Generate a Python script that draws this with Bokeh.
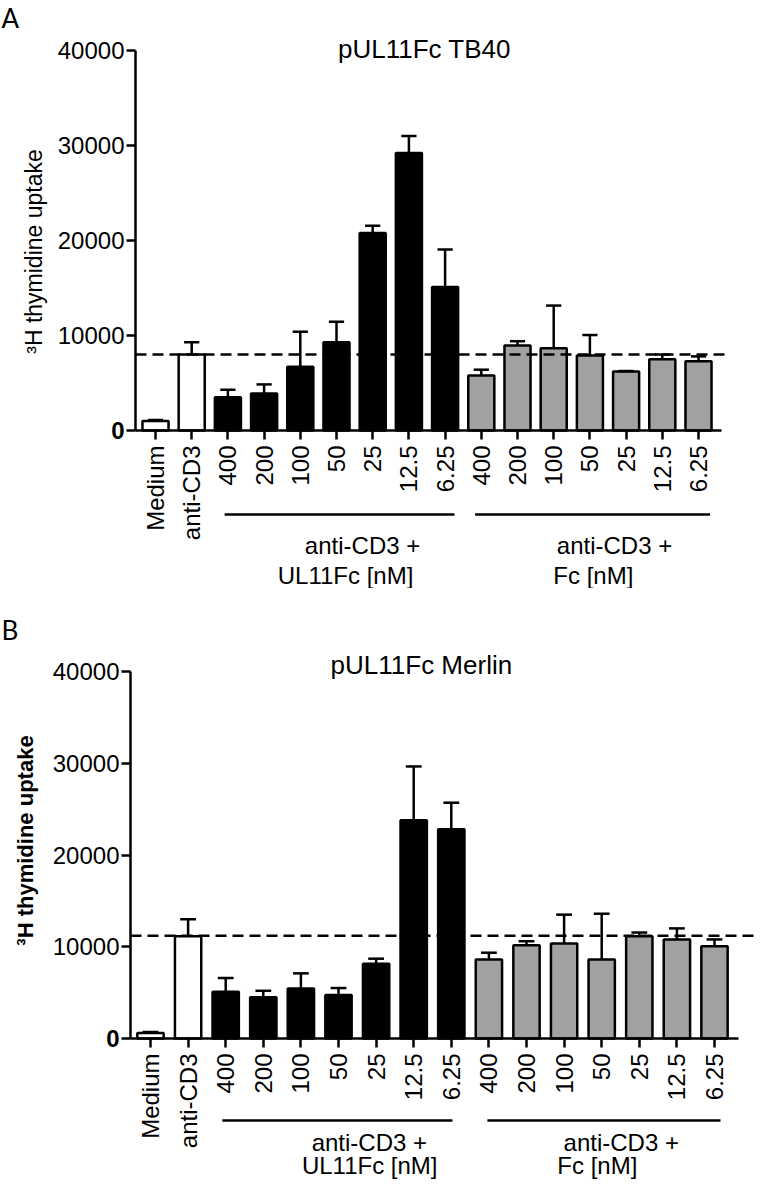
import math
from bokeh.plotting import figure
from bokeh.models import Range1d, FixedTicker, ColumnDataSource
from bokeh.layouts import column
from bokeh.embed import file_html
from bokeh.resources import INLINE
from bokeh.core.properties import value

# ---------------- data ----------------
categories = ["Medium", "anti-CD3", "400", "200", "100", "50", "25", "12.5", "6.25",
              "400", "200", "100", "50", "25", "12.5", "6.25"]
groups = ["ctrl", "ctrl"] + ["UL11Fc"] * 7 + ["Fc"] * 7
y_ticks = [0, 10000, 20000, 30000, 40000]

tb40_mean = [1000, 8000, 3500, 3900, 6700, 9300, 20800, 29200, 15100,
             5800, 8950, 8650, 7900, 6200, 7500, 7300]
tb40_sem = [100, 1300, 800, 950, 3700, 2150, 750, 1800, 3950,
            600, 450, 4500, 2150, 60, 500, 500]
tb40_ref = 8000

merlin_mean = [600, 11150, 5100, 4500, 5450, 4750, 8150, 23800, 22800,
               8600, 10150, 10350, 8600, 11150, 10800, 10050]
merlin_sem = [100, 1850, 1500, 700, 1650, 750, 550, 5850, 2900,
              750, 450, 3150, 5000, 400, 1200, 750]
merlin_ref = 11200

group_text_1 = ["anti-CD3 +", "anti-CD3 +"]
group_text_2 = ["UL11Fc [nM]", "Fc [nM]"]

colors = {"ctrl": "white", "UL11Fc": "black", "Fc": "#a1a1a4"}
FONT = "Liberation Sans"
W = 755


def panel(mean, sem, ref, title, letter, label_bold, cfg):
    H = cfg["H"]
    sp = cfg["spacing"]
    x_axis = -20.0 / sp                       # y-axis position (data units)
    x_start = x_axis - cfg["axis_px"] / sp    # canvas left edge
    x_end = x_start + W / sp
    ppu = cfg["ppu"]
    y_end = cfg["y0_px"] / ppu
    y_start = -(H - cfg["y0_px"]) / ppu

    p = figure(width=W, height=H, x_range=Range1d(x_start, x_end),
               y_range=Range1d(y_start, y_end), output_backend="svg",
               toolbar_location=None, min_border_left=0, min_border_right=0,
               min_border_top=0, min_border_bottom=0)
    p.outline_line_color = None
    p.xgrid.visible = False
    p.ygrid.visible = False
    p.background_fill_color = "white"
    p.border_fill_color = "white"

    n = len(categories)
    xs = list(range(n))
    src = ColumnDataSource(dict(
        x=xs, top=mean, up=[m + s for m, s in zip(mean, sem)],
        cl=[i - 0.21 for i in xs], cr=[i + 0.21 for i in xs],
        color=[colors[g] for g in groups]))

    p.vbar(x="x", top="top", bottom=0, width=cfg["bar_w"], fill_color="color",
           line_color="black", line_width=2.5, source=src)
    p.segment(x0="x", y0="top", x1="x", y1="up", line_color="black",
              line_width=2.5, source=src)
    p.segment(x0="cl", y0="up", x1="cr", y1="up", line_color="black",
              line_width=2.5, source=src)
    # reference dashed line
    p.segment(x0=[x_axis], y0=[ref], x1=[cfg["dash_end"]], y1=[ref],
              line_color="black", line_width=2.5, line_dash="11 6")

    # x axis (drawn at y = 0 inside the frame)
    xa = p.xaxis[0]
    xa.fixed_location = 0
    xa.bounds = (x_axis, cfg["axis_end"])
    xa.ticker = FixedTicker(ticks=xs)
    xa.major_label_overrides = {i: c for i, c in enumerate(categories)}
    xa.major_label_orientation = math.pi / 2
    xa.minor_tick_line_color = None
    xa.major_tick_in = 0
    xa.major_tick_out = 9
    xa.axis_line_width = 2.5
    xa.major_tick_line_width = 2.5
    xa.major_label_standoff = 6
    xa.major_label_text_font = FONT
    xa.major_label_text_font_size = "24px"
    xa.major_label_text_color = "black"

    # y axis (drawn at the left position inside the frame)
    ya = p.yaxis[0]
    ya.fixed_location = x_axis
    ya.bounds = (0, 40000)
    ya.ticker = FixedTicker(ticks=y_ticks)
    ya.major_label_overrides = {t: ("" if t == 0 else str(t)) for t in y_ticks}
    ya.minor_tick_line_color = None
    ya.major_tick_in = 0
    ya.major_tick_out = 9
    ya.axis_line_width = 2.5
    ya.major_tick_line_width = 2.5
    ya.major_label_standoff = 2
    ya.major_label_text_font = FONT
    ya.major_label_text_font_size = "24px"
    ya.major_label_text_color = "black"

    # bold zero label
    p.text(x=[x_axis - 11.0 / sp], y=[0], text=["0"], text_align="right",
           text_baseline="middle", text_font=value(FONT), text_font_size="24px",
           text_font_style="bold", text_color="black")
    # y axis title
    p.text(x=[x_axis - cfg["ylab_dx"] / sp], y=[cfg["ylab_y"]],
           text=["\u00b3H thymidine uptake"], angle=math.pi / 2,
           text_align="center", text_baseline="middle", text_font=value(FONT),
           text_font_size=cfg["ylab_fs"],
           text_font_style="bold" if label_bold else "normal", text_color="black")
    # panel letter
    p.text(x=[x_start + 1.0 / sp], y=[cfg["letter_y"]], text=[letter],
           text_align="left", text_baseline=cfg["letter_base"],
           text_font=value("Lato"), text_font_size="26px", text_color="black")
    # title
    p.text(x=[cfg["title_x"]], y=[cfg["title_y"]], text=[title],
           text_align="center", text_baseline="middle",
           text_font=value(FONT), text_font_size="26px", text_color="black")

    # group lines & labels
    p.segment(x0=cfg["gl_x0"], y0=[cfg["gl_y"]] * 2, x1=cfg["gl_x1"],
              y1=[cfg["gl_y"]] * 2, line_color="black", line_width=2.5)
    p.text(x=cfg["gt1_x"], y=[cfg["gt1_y"]] * 2, text=group_text_1,
           text_align="center", text_baseline="middle",
           text_font=value(FONT), text_font_size=cfg["gfs"], text_color="black")
    p.text(x=cfg["gt2_x"], y=[cfg["gt2_y"]] * 2, text=group_text_2,
           text_align=cfg["gt2_align"], text_baseline="middle",
           text_font=value(FONT), text_font_size=cfg["gfs"], text_color="black")
    return p


cfgA = dict(H=588, axis_px=135, spacing=36.2, y0_px=430, ppu=0.0095, bar_w=0.72,
            axis_end=15.64, dash_end=15.86, ylab_dx=102, ylab_y=18842,
            ylab_fs="23px", letter_y=45150, letter_base="top",
            title_x=7.53, title_y=40210,
            gl_x0=[1.91, 8.83], gl_x1=[8.26, 15.32], gl_y=-8842,
            gt1_x=[5.72, 12.68], gt1_y=-12105,
            gt2_x=[5.25, 10.99], gt2_y=-15263, gt2_align=["center", "left"],
            gfs="24px")
cfgB = dict(H=593, axis_px=130, spacing=37.6, y0_px=450, ppu=0.009175, bar_w=0.70,
            axis_end=15.64, dash_end=16.3, ylab_dx=105, ylab_y=21580,
            ylab_fs="22px", letter_y=44469, letter_base="middle",
            title_x=7.3, title_y=40654,
            gl_x0=[1.91, 8.96], gl_x1=[8.03, 15.16], gl_y=-8937,
            gt1_x=[5.82, 12.52], gt1_y=-11335,
            gt2_x=[5.83, 10.82], gt2_y=-13842, gt2_align=["center", "left"],
            gfs="24px")

pA = panel(tb40_mean, tb40_sem, tb40_ref, "pUL11Fc  TB40", "A", False, cfgA)
pB = panel(merlin_mean, merlin_sem, merlin_ref, "pUL11Fc  Merlin", "B", True, cfgB)

layout = column(pA, pB, spacing=0)
open("out.html", "w").write(file_html(layout, INLINE))
